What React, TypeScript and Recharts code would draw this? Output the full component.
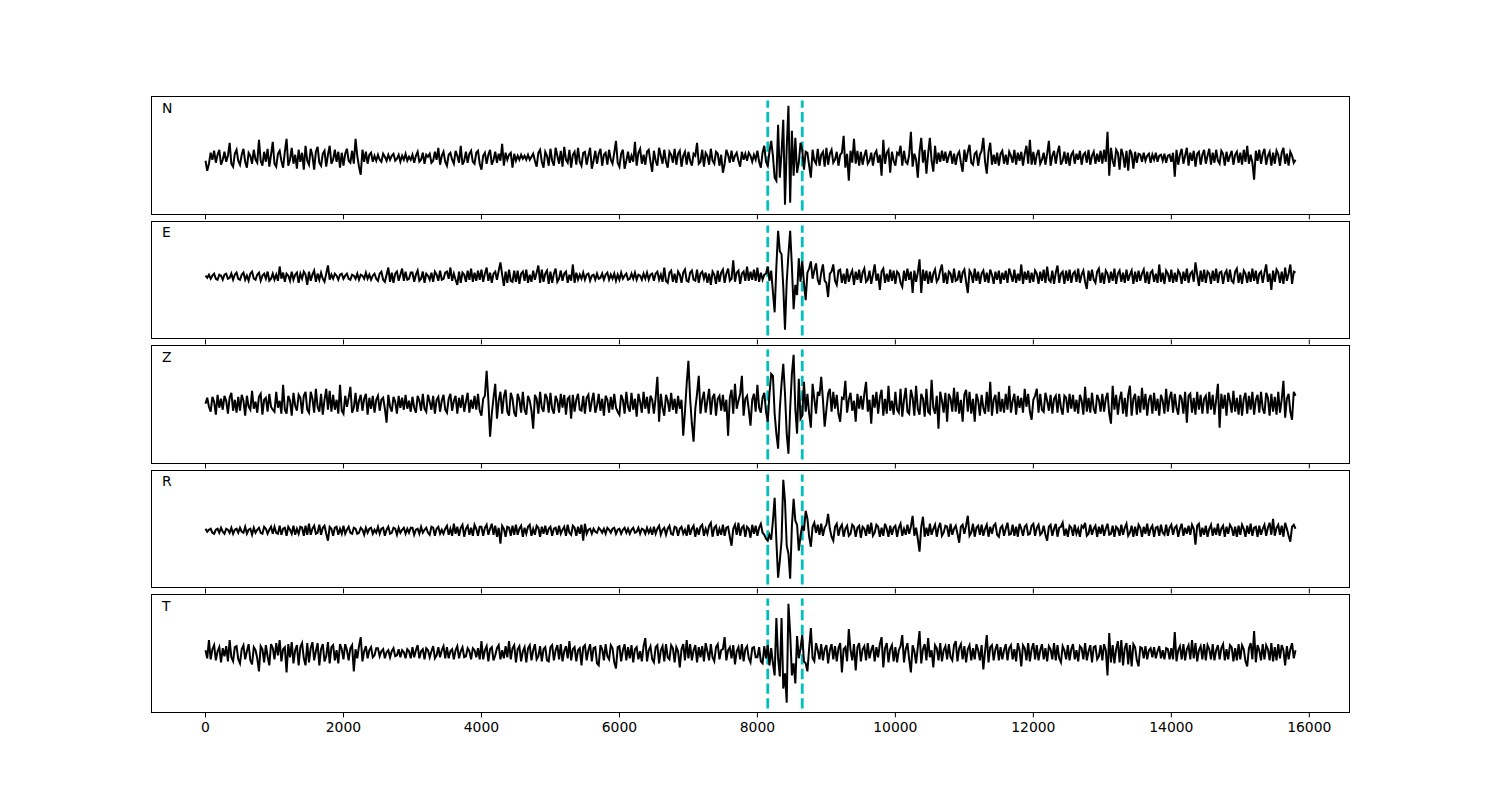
import React from "react";
import { LineChart, Line, XAxis, YAxis, ReferenceLine } from "recharts";

// sample times of the traces (one sample every 25 units)
function span(from: number, to: number, step: number) {
    const out: number[] = [];
    for (let t = from; t <= to; t += step) out.push(t);
    return out;
}
const TIME = span(0, 15800, 25);

const X_TICKS = [0, 2000, 4000, 6000, 8000, 10000, 12000, 14000, 16000];
const PICKS = [8150, 8650];

// traces, 20 samples (500 units) per row
const N_TRACE = [
    -3, -13, -6, 5, -2, 7, -5, 3, 8, -7, -2, 6, -4, 2, 15, -6, -9, 4, 8, -3,
    -7, 3, 9, -4, -10, 5, 2, -6, 8, -2, -5, 18, -3, -8, 6, -4, 9, -9, 3, 16,
    -6, -9, 4, 7, -3, -10, 6, 19, -8, -2, 10, -6, 3, -11, 8, -4, 5, -12, 12, -3,
    -7, 9, 2, -12, 6, 11, -5, -8, 4, 7, -9, 3, 12, -6, -2, 8, -4, 6, -10, 5,
    -8, 4, 9, -3, -5, 7, -6, 19, 2, -9, -17, 8, -4, 6, -6, 3, 5, -4, 2, -3,
    3, -2, -4, 4, 1, -3, 3, -2, 2, 4, -3, -1, 3, -4, 2, -2, 4, -3, 1, -2,
    3, -5, 2, 6, -4, -2, 5, -6, 3, 1, 4, -5, -3, 6, -2, 10, -7, 2, 6, -4,
    -8, 3, 5, -2, -6, 7, 2, -5, 12, -7, -3, 6, -5, 4, 7, -4, -6, 5, 7, -6,
    -12, 2, 5, -6, 3, 8, -7, -2, 6, -5, 4, -3, 14, -8, 5, -2, 3, 5, -10, 4,
    -3, 2, -2, 3, -1, 2, -2, 3, -2, 1, 4, -3, -9, 5, 8, -4, -10, 6, 2, -8,
    9, -3, -8, 10, 2, -6, 7, -9, 11, -2, -5, 8, -10, 3, 6, -7, 10, -4, -8, 5,
    6, -7, 2, 10, -11, -3, 7, -6, 4, 9, -8, 3, 5, -7, 8, -2, -6, 5, 17, -5,
    -9, 4, 8, -11, -3, 6, -5, 2, -4, 16, -8, 5, 9, -6, 3, -7, 6, 8, -4, -14,
    7, -3, -8, 10, 2, -6, 8, -4, -10, 6, 3, -5, 9, -7, 4, 7, -9, 2, 6, -7,
    6, -3, -8, 4, 2, 15, -6, -4, 8, -9, 5, 2, -7, 9, -3, -6, 6, 4, -8, 3,
    -15, -6, 8, 3, -5, 7, -4, 2, 5, -3, -9, 6, -2, 4, -3, 5, 2, -4, 3, -2,
    7, -4, -10, 5, 12, -4, -8, 6, 17, 2, -20, -23, 33, -20, 5, 38, -47, 10, 52, -45,
    27, -18, 20, -15, -5, 15, 8, -12, 6, 5, -8, -20, 8, -3, -6, 9, -8, 3, 6, -9,
    10, -7, 4, 8, -5, -2, 6, -8, 3, 5, 22, -10, 4, -23, 7, -5, 19, -6, 7, -8,
    6, -7, 2, 8, -6, -3, 5, -8, 4, 7, -5, 3, -18, 18, -6, 5, 8, -15, 6, -3,
    -8, 5, 3, 12, -8, 7, -4, -6, 3, 26, -9, 4, -2, -20, 6, 20, -5, 8, -16, 4,
    20, -3, -14, 12, -6, 5, -4, 7, -3, 6, -5, 2, 7, -6, 4, -7, 3, 6, -5, -14,
    8, -4, 6, 13, -5, -7, 4, 6, -8, 3, 7, 20, -4, -16, 6, 15, -7, 3, -6, 5,
    -8, 4, 7, -6, 3, -7, 6, 2, -5, 8, -7, 5, -3, 6, -8, 4, 12, -6, 18, -7,
    6, -7, 3, 8, -6, -2, 5, -7, 4, 17, -8, 2, 7, -6, 5, 12, -7, -3, 6, -6,
    5, -8, 3, 6, -6, 4, -2, 7, -7, 3, 5, -5, 8, -7, 2, 6, -6, 4, -4, 7,
    -6, 8, -4, 26, -18, 10, -3, -9, 8, 5, -12, 9, 3, -10, 7, -13, 8, 4, -11, 6,
    -5, 4, 3, -4, 5, -3, 2, 4, -5, 3, -2, 5, -4, 2, 3, -3, 4, -5, 2, 3,
    -4, 5, -19, 8, -7, 3, 9, -6, 2, 10, -8, 5, -3, 7, -9, 4, 6, -7, 3, 8,
    -6, 2, 9, -7, 5, -5, 8, -3, -6, 7, 4, -8, 6, -4, 2, 7, -7, 3, 6, -5,
    5, -7, 8, -4, 12, -6, 3, -5, -22, 7, -3, 8, -6, 4, 9, -7, 2, 6, -8, 5,
    -6, 7, 3, -8, 5, 10, -6, 4, -8, 6, 2, -5, -2,
];

const E_TRACE = [
    1, -1, 2, -2, 1, 3, -2, -3, 2, 1, -3, 2, 3, -2, -1, 3, -3, 2, 4, -2,
    -3, 2, 4, -3, 1, -4, 3, 5, -2, -3, 2, 4, -4, 1, 3, -2, 5, -4, -2, 3,
    -3, 2, -4, 10, -2, 4, -5, 3, 1, -4, 5, -3, 2, 4, -6, 3, -2, 5, 2, -8,
    5, -4, 2, 6, -5, 3, -3, 4, -2, -5, 3, 11, -3, 2, -2, 3, 1, -3, 2, 3,
    -2, 1, 3, -2, -3, 2, 1, -2, 3, -3, 2, 1, -2, 4, -2, 2, -3, 1, 3, -2,
    -4, 3, 5, -3, -5, 2, 9, -5, 4, -6, 3, 5, -4, 2, 8, -4, 5, -3, -2, 4,
    4, -5, 2, 6, -4, -2, 5, -6, 3, 1, -3, 4, -5, 5, 2, -4, 6, -3, -2, 4,
    5, -2, 9, -4, 3, -3, -8, 5, -6, 4, 2, -5, 6, -3, 8, -5, 4, -4, 6, -3,
    7, -5, 3, 9, -4, 4, -6, 3, 5, -3, 6, 14, 2, -9, 5, -6, 7, -4, -5, 6,
    -5, 6, -7, 3, 5, -4, 7, -6, 2, -5, 6, -3, 4, 11, -6, 7, -5, 3, 6, -7,
    5, -6, 3, 8, -5, -2, 6, -4, 3, 5, -6, 2, -4, 12, -6, 4, -3, 2, -2, 4,
    -3, 2, 3, -4, 1, 2, -3, 3, -2, -1, 3, -3, 2, 4, -3, 2, -2, 3, -4, 2,
    -3, 4, -2, 1, 3, -3, -2, 3, -2, 4, -3, 2, 1, -3, 3, -2, 4, -3, 2, 3,
    -4, 3, 5, -3, 2, -5, 9, -4, -6, 4, 6, -5, 3, -6, 5, 2, -6, 4, 7, -4,
    -5, 4, 6, -3, -4, 7, -6, 3, 5, -2, 4, -6, 3, -8, 5, 2, -7, 6, -5, 4,
    7, -6, 3, 8, -4, -2, 16, -5, 4, 6, -7, 3, 5, -4, 10, -4, 5, -3, 7, -4,
    9, -5, 4, -3, 2, 3, 10, -4, 6, -15, -35, 10, 45, 25, 22, -10, -52, -5, 22, 45,
    10, -32, -8, -18, 18, -5, 15, -6, -23, 4, 8, 15, -2, 6, 13, -3, -8, 4, 12, -4,
    -6, -20, 3, 5, 12, -4, -8, 6, 7, -6, 3, -7, 8, -5, 2, 6, -8, 5, -3, 7,
    -6, 4, 8, -5, -3, 6, -7, 2, 12, -4, 3, -13, 5, 8, -6, 3, -5, 7, -4, 6,
    -7, 5, 3, -6, -10, 6, -4, 8, -3, 5, -16, 6, -5, 4, 17, -16, 7, -4, 6, -7,
    5, -6, 3, 7, -5, -2, 6, 12, -6, 4, -7, 5, 3, -6, 8, -4, -3, 6, -6, 4,
    7, -5, -16, 6, 3, -6, 8, -4, 5, -7, 3, 6, -5, 4, -6, 7, 2, -7, 5, -3,
    6, -7, 4, -3, 6, -6, 8, 2, -5, 7, -6, 3, -4, 12, -7, 5, -3, 6, -6, 4,
    -5, 6, 3, -7, 5, -4, 7, -6, 10, -3, -5, 6, -7, 4, 11, -6, 3, 5, -7, 6,
    -4, 7, -6, 3, 5, -5, 8, -6, 2, 6, -5, -12, 6, -4, 7, -3, -6, 5, 8, -6,
    4, -7, 6, 3, -6, 5, -4, 8, -7, 3, 6, -5, 4, -6, 7, -4, 2, 6, -7, 5,
    -5, 6, -4, 3, 7, -6, 5, -7, 4, 6, -5, 3, -6, 12, -5, 4, -7, 6, 3, -5,
    7, -6, 4, -5, 6, 3, -7, 5, -4, 8, -6, 3, 5, -5, 14, 2, -9, 6, -5, 7,
    -6, 5, 3, -7, 6, -4, 8, -6, 4, 5, -7, 3, 6, -5, 7, -4, -6, 5, 8, -6,
    4, -7, 6, 3, -6, 5, -5, 8, -4, 6, -7, 3, 5, -6, 4, 12, -5, 3, -13, 6,
    -5, 7, 4, -6, 5, -7, 9, -4, 3, 12, -7, 5, 4,
];

const Z_TRACE = [
    0, 6, -3, -8, 7, 2, -11, 9, -4, 5, -6, 8, 3, -10, 6, 11, -7, 4, -9, 7,
    -7, 9, 3, -12, 8, -3, -6, 13, -5, 2, -9, 7, 10, -11, 4, 6, -8, 10, -3, -6,
    -8, 12, -4, 3, -10, 19, -6, -10, 8, 3, -12, 11, -2, -7, 9, 6, -10, 8, 12, -6,
    -9, 12, 5, -9, 15, -3, -8, 10, -11, 4, 15, -6, 13, -8, 9, -6, 4, -10, 19, -7,
    -10, 8, -3, 6, 17, -9, -4, 11, -8, 3, 9, -7, 5, 10, -11, 6, -5, 8, -9, 4,
    8, -7, 4, 6, -5, -19, 9, -3, -8, 7, 2, -10, 8, -4, 6, -6, 9, -5, 3, -8,
    7, -4, -9, 8, 3, -7, 10, -5, -8, 9, 2, -6, 8, -10, 4, 7, -8, 3, 9, -6,
    -9, 5, 10, -7, 3, 8, -10, 6, -4, 9, -8, 2, 11, -9, 4, -5, 8, -6, 10, -7,
    -12, 5, 8, 33, 4, -33, -10, 6, 20, -15, 3, 12, -10, 7, 14, -8, -12, 11, 5, -9,
    -13, 10, 4, -9, 12, -6, -11, 8, 3, -7, -25, 9, 5, -10, 12, -4, -8, 10, 6, -9,
    11, -5, -10, 8, 3, -9, 10, -4, 9, -11, 5, 7, -15, 9, -8, 4, 10, -6, -7, 8,
    -10, 6, 9, -8, 3, 11, -9, -2, 10, -7, 5, -12, 8, 4, -9, 7, -6, 10, -4, -8,
    -11, 9, 4, -10, 12, -3, -8, 11, -6, 5, -13, 10, 2, -9, 12, -5, 7, -10, 8, 4,
    -10, 6, 27, -18, 10, -4, -12, 9, 3, -8, 11, -6, 5, -10, 8, -5, 4, -32, -8, 20,
    43, 5, -20, -38, -5, 10, 28, -10, 4, 12, -9, 3, 15, -11, 6, 10, -12, 5, 8, -7,
    9, -8, 4, -32, 6, 14, -10, 20, -5, 3, 10, 28, -12, 5, 8, -6, -22, 4, 10, -8,
    19, -4, -9, 6, 11, -8, -18, 10, 30, 28, -10, -30, -45, -5, 20, 40, 10, -30, -50, -5,
    30, 49, -5, -30, 25, -15, -12, 22, -8, 10, -10, -24, 20, 5, -10, 12, 8, 27, 4, -23,
    -6, 10, 15, -8, 12, -5, 9, -10, -18, 6, 5, 23, -9, 4, 11, -7, 3, -18, 10, -5,
    8, -6, 10, 22, -8, 4, -20, 9, -4, 12, -10, 6, 14, -12, 5, -10, 18, -7, 3, -11,
    12, -6, -9, 15, -13, 4, 16, -8, -10, 14, 6, -12, 18, -5, -11, 10, 5, -13, 15, -8,
    -10, 24, -4, -10, 8, -25, 12, 3, -9, 11, -18, 10, 5, -8, 16, -8, 12, -10, 4, -18,
    9, 14, -8, 12, -10, 5, -18, 10, 3, -12, 9, -4, -10, 12, -8, 22, -12, 4, 9, -10,
    12, -8, 5, -9, 10, -6, 18, -9, 3, 10, -11, 8, -4, 6, -9, 15, -3, 10, -8, -16,
    4, 8, 15, -9, 10, -6, -8, 11, 3, -7, 9, -10, 5, 8, -9, 10, -4, -11, 8, 6,
    -9, 10, -5, 9, -8, 4, -10, 9, 3, -11, 17, -8, 6, -9, 11, -5, -10, 9, 4, -8,
    10, -8, 5, 11, -10, -20, 18, -6, 9, -11, 4, 12, -10, 6, -13, 9, 18, -12, 5, 10,
    -11, 8, -9, 16, -6, 10, -12, 4, 9, -10, 11, -7, 5, -12, 9, 3, -10, 15, -8, 6,
    12, -9, 10, -4, -11, 9, 5, -10, 12, -19, 8, 10, -9, 6, -11, 12, -6, 9, -10, 5,
    8, -10, 12, -6, 9, -11, 4, 20, -24, 10, -5, 9, -12, 11, 3, -9, 13, -8, 6, -11,
    9, -12, 5, 11, -10, 8, -6, 12, -11, 4, 9, -9, 12, -5, -10, 11, 6, -12, 10, -8,
    7, -11, 12, -9, 4, 23, -14, 5, 10, -8, -16, 12, 8,
];

const R_TRACE = [
    2, -1, 1, 2, -2, -3, 1, 2, -2, 3, -1, -3, 2, 1, -2, 3, -3, 1, 2, -2,
    3, -1, -2, 4, -3, 1, 2, -4, 3, -2, 1, 3, -2, -3, 4, 2, -3, 1, 4, -3,
    4, -2, -3, 5, -4, 2, 3, -5, 4, 1, -3, 5, -4, 2, -3, 4, 3, -5, 5, -4,
    7, -4, 2, 5, -3, -2, 6, -4, 3, 5, -3, -10, 4, 2, -5, 3, 4, -4, 2, -3,
    5, -3, 1, 4, -2, -3, 3, 2, -3, -2, 3, 1, -4, 3, -2, 2, 3, -3, 1, -2,
    4, -3, 2, 3, -5, 1, 4, -3, -2, 3, 2, -4, 3, -2, 1, 3, -3, 2, -2, 3,
    3, -4, 1, 2, -3, 4, -2, 1, 3, -2, -4, 4, 3, -5, 2, 4, -3, 1, -3, 2,
    5, -4, 2, -5, 7, -3, 4, -5, 3, 6, -6, 2, 5, -4, 3, -5, 6, 2, -5, 4,
    4, -5, 3, 6, -4, 2, 7, -4, 5, -6, 3, -13, 5, 2, -6, 4, 3, -5, 5, -4,
    6, -4, 2, 5, -6, 3, -3, 4, 6, -5, 2, -4, 5, 3, -6, 4, -3, 5, -4, 2,
    4, -5, 2, 3, -4, 5, -3, 1, 4, -5, 6, -2, -4, 5, 3, -5, 4, -3, 6, -10,
    7, -3, 1, 2, -3, 2, -1, -2, 3, 1, -2, 2, -3, 3, 1, -2, 2, 3, -3, 1,
    2, -3, 1, 3, -2, 2, -3, 1, 3, -2, -1, 3, -3, 2, 1, -3, 3, -2, 2, -4,
    4, -3, 2, 5, -4, 1, 3, -4, 2, 5, -3, -4, 4, 3, -5, 2, 4, -3, 1, -5,
    6, -4, 2, 5, -6, 3, -4, 4, 6, -5, 2, -3, 5, 8, -6, 3, 5, -5, 2, -4,
    6, -5, 3, 4, -6, -15, 2, 6, -4, 8, -5, 3, 5, -6, 4, 2, -7, 6, -3, 5,
    -5, 3, 7, -2, -4, -8, -10, -4, -9, 10, 33, -10, -47, -30, -10, 51, 30, -15, -23, -48,
    5, 32, 10, 6, -20, -5, 5, 0, 20, 12, -6, -16, 4, 8, -2, 6, -4, 7, -5, 3,
    6, 17, 2, -6, -10, 4, 7, -5, 3, 6, -6, 2, 5, -5, -3, 6, 4, -6, 3, 5,
    -7, 4, 2, -5, 6, -3, 8, -5, -2, 6, 4, -6, 3, -5, 7, 2, -6, 5, -4, 3,
    5, -6, 3, 7, -5, 2, -4, 6, -3, 4, 15, -5, 3, -8, -21, 4, 14, -6, 3, -5,
    7, -4, 2, 6, -6, 3, 8, -5, -2, 5, 4, -6, 7, -4, 2, 5, -3, -12, 4, 6,
    -3, 5, 15, -5, -2, 7, -6, 3, 5, -4, 6, -5, 2, 6, -6, 4, -3, 5, 7, -4,
    -6, 3, 5, -5, 2, 8, -4, -3, 6, -5, 4, -6, 7, 2, -5, 4, 6, -4, -3, 5,
    7, -5, 3, 6, -4, -2, 5, -4, -10, 4, 6, -5, 2, 7, -6, 3, 4, 8, -5, 2,
    -6, 5, 3, -5, 6, -3, 2, -6, 5, 3, 8, -5, -3, 6, -4, 2, 5, -6, 4, -3,
    6, -5, 2, 7, -4, -3, 5, -6, 4, 2, -5, 6, -4, 3, 7, -5, -2, 5, -6, 4,
    -5, 6, 3, -6, 4, -3, 7, -5, 2, 5, -6, 3, 4, -5, 6, -2, -4, 6, -5, 3,
    6, -4, 3, 5, -6, 2, 7, -5, 3, -3, 5, -4, 6, 2, -14, 5, 7, -6, 3, -4,
    5, -6, 2, 6, -5, 3, -4, 7, -5, 2, 5, -6, 4, -3, 6, 3, -5, 4, -6, 5,
    -4, 6, 2, -6, 5, -3, 7, -5, 3, 4, -6, 5, -4, 2, 6, -5, 3, 8, -4, 12,
    -5, 3, 6, -4, 5, -6, 8, 2, -5, -11, 4, 6, 2,
];

const T_TRACE = [
    3, -5, 13, -6, 4, 8, -7, 2, 6, -9, 5, -3, 7, -8, 13, -4, -8, 6, 7, -6,
    -10, 4, 8, -6, 2, 9, -7, -11, 6, 3, -5, -18, 7, 4, -9, 8, -3, -12, 9, 5,
    -6, 10, -2, 13, -8, 4, 6, -19, 9, -4, 11, -10, 3, 8, -12, 6, 10, -5, -12, 10,
    -9, 5, 11, -7, 2, 10, -12, 4, 9, -8, -3, 11, -10, 6, 8, -7, 3, -10, 9, 4,
    -6, 9, 3, -7, 5, 8, -18, 4, -5, 7, 16, -8, 2, 7, -5, 3, 6, -4, -2, 5,
    5, -3, 2, 4, -5, 1, 3, -4, 2, 5, -3, -2, 4, -4, 3, 1, -5, 4, 2, -5,
    6, -4, 3, 8, -5, 2, 4, -6, 5, 3, -4, 2, 7, -5, -2, 6, -4, 3, 7, -5,
    6, -5, 2, 4, -6, 3, 7, -5, 2, 6, -4, -3, 5, 2, -6, 5, 3, -4, 5, -6,
    12, -6, 3, 7, -8, 4, 6, -7, -2, 5, 8, -6, 3, -5, 7, -4, 12, -6, 5, 8,
    -9, 4, 7, -8, 2, 6, -9, 5, 8, -7, 3, 9, -6, -3, 7, -8, 4, 6, -7, -8,
    6, 8, -7, 3, 8, -6, 9, -8, 2, 7, -5, 12, -7, 4, 6, -8, 3, 5, -12, 6,
    8, -7, 3, 9, -8, 5, 6, -10, -12, 8, 4, -7, 9, -3, -6, 8, 5, -9, -15, 6,
    7, -8, 3, 9, -7, 6, -5, 8, -9, 4, 6, -6, 2, -8, 7, 15, -8, 3, 7, -6,
    -9, 6, 8, -10, 3, 7, -8, 9, -4, -6, 8, 5, -9, 6, 2, -14, 4, 9, -7, 13,
    -5, 9, -7, 3, 8, -9, 6, -4, 7, -8, 10, 2, -7, 9, -4, -8, 6, 9, -6, 3,
    4, 16, -7, 3, 6, -5, 8, -11, 2, 6, -6, 9, -8, 4, 7, -5, -9, 5, 6, -4,
    -4, 6, -8, -10, 7, -5, 8, -12, 5, -10, -22, 35, -5, -23, 35, -35, -20, -49, 49, 20,
    -22, -10, -30, 17, -5, 5, 18, -8, -10, -18, 5, 25, -5, -8, 10, 3, -6, 9, -7, 4,
    8, -10, 3, 9, -6, 7, -8, 5, 10, -19, 4, 6, -8, 24, 3, -7, 9, -17, 6, 10,
    -8, 4, 7, -7, 10, -5, 3, 8, -8, 6, -4, 9, 16, -14, 5, 10, -9, 4, 8, -8,
    6, -9, 3, 7, 18, -9, 4, 10, -6, -19, 8, 2, -10, 6, 22, -10, 4, 9, -7, 15,
    -4, 3, -14, 8, 5, -7, 10, -8, 3, 7, -6, 9, -4, -7, 8, 12, -8, 5, 9, -6,
    7, -9, 4, 8, -7, 5, -6, 9, 3, -7, 8, -16, 2, 18, -9, 6, 8, -7, 4, 9,
    -7, 6, -6, 3, 9, -7, 5, 8, -6, 4, -8, 10, 3, -13, 8, 5, -7, 10, -8, 4,
    10, -6, 8, -7, 3, 9, -6, 5, -8, 7, 4, -6, 10, -7, 8, -5, -9, 7, 3, -6,
    8, -7, 4, 9, -6, 3, -8, 7, 5, -6, 10, -7, 2, 8, -9, 6, 7, -6, -3, 8,
    -7, 9, 3, -22, 20, -9, 8, -10, 4, 12, -9, 13, -12, 5, 10, -11, 8, -13, 9, 6,
    -7, -13, 6, 5, -5, 7, -6, 3, 5, -4, 6, -5, 2, 7, -5, 3, -6, 5, 4, -6,
    5, -6, 21, -8, 3, 7, -6, 9, -7, 4, 8, -6, 13, -5, 10, -8, 3, 7, -6, 9,
    -7, 8, 4, -6, 9, -7, 3, 8, -6, 5, 9, -7, 4, -6, 8, 6, -8, 5, -7, 9,
    -6, 8, 4, -8, -13, 5, 10, -6, 22, -9, 8, 3, -7, 9, -6, 8, 4, -7, 10, -8,
    6, -7, 9, -5, 8, 3, -12, 7, -6, 4, 10, -5, 3,
];

const CHANNELS = ["N", "E", "Z", "R", "T"];
const TRACES = [N_TRACE, E_TRACE, Z_TRACE, R_TRACE, T_TRACE];

const FONT = "'DejaVu Sans', sans-serif";
const AX_LEFT = 151;
const AX_W = 1199;
const AX_TOP = 96;
const AX_H = 118.5;
const AX_STEP = 124.5;

function Panel({ label, values, index, last }: { label: string; values: number[]; index: number; last: boolean }) {
    if (values.length !== TIME.length) console.warn(label, values.length, TIME.length);
    const n = Math.min(values.length, TIME.length);
    const data = TIME.slice(0, n).map((t, i) => ({ t, v: values[i] }));
    const lo = Math.min(...values);
    const hi = Math.max(...values);
    const pad = (hi - lo) * 0.1;
    const top = AX_TOP + index * AX_STEP;
    const axisH = last ? 30 : 6;

    return (
        <>
            <div style={{ position: "absolute", left: AX_LEFT, top, width: AX_W, height: AX_H + axisH }}>
                <LineChart width={AX_W} height={AX_H + axisH} data={data} margin={{ top: 0, right: 0, bottom: 0, left: 0 }}>
                    <XAxis
                        type="number"
                        dataKey="t"
                        domain={[-790, 16590]}
                        ticks={X_TICKS}
                        interval={0}
                        allowDataOverflow
                        axisLine={false}
                        stroke="#000"
                        tickSize={4.9}
                        tickMargin={4.9}
                        height={axisH}
                        tick={{ fill: "#000", fontSize: 13.9, fontFamily: FONT }}
                        tickFormatter={(v) => (last ? String(v) : "")}
                    />
                    <YAxis hide width={0} domain={[lo - pad, hi + pad]} allowDataOverflow />
                    {PICKS.map((p) => (
                        <ReferenceLine
                            key={p}
                            segment={[{ x: p, y: lo - pad * 0.6 }, { x: p, y: hi + pad * 0.55 }]}
                            stroke="#00bfbf"
                            strokeWidth={2.8}
                            strokeDasharray="10.3 4.4"
                        />
                    ))}
                    <Line
                        type="linear"
                        dataKey="v"
                        stroke="#000"
                        strokeWidth={2}
                        dot={false}
                        isAnimationActive={false}
                    />
                </LineChart>
            </div>
            <div
                style={{
                    position: "absolute",
                    left: AX_LEFT,
                    top,
                    width: AX_W,
                    height: AX_H,
                    border: "1px solid #000",
                    boxSizing: "border-box",
                    pointerEvents: "none",
                }}
            />
            <div style={{ position: "absolute", left: 162, top: top + 4.5, fontFamily: FONT, fontSize: 13.9, lineHeight: "14px", color: "#000" }}>
                {label}
            </div>
        </>
    );
}

export default function App() {
    return (
        <div style={{ position: "fixed", left: 0, top: 0, width: 1500, height: 800, background: "#fff", overflow: "hidden" }}>
            {CHANNELS.map((c, i) => (
                <Panel key={c} label={c} values={TRACES[i]} index={i} last={i === CHANNELS.length - 1} />
            ))}
        </div>
    );
}
